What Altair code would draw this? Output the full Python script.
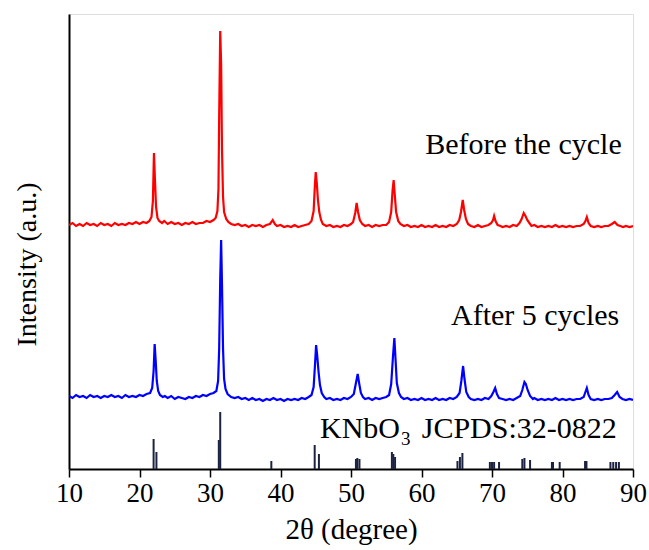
import altair as alt
import pandas as pd

# "Before the cycle" trace: (2theta, intensity a.u.)
red_trace = [
    (10.0, 244), (10.5, 246), (11.0, 243), (11.5, 245), (12.0, 243), (12.5, 246), (13.0, 244), (13.5, 245),
    (14.0, 243), (14.5, 246), (15.0, 244), (15.5, 245), (16.0, 243), (16.5, 246), (17.0, 244), (17.5, 245),
    (18.0, 244), (18.5, 246), (19.0, 245), (19.5, 247), (20.0, 245), (20.5, 247), (21.0, 246), (21.4, 248),
    (21.7, 252), (21.9, 268), (22.05, 316), (22.2, 288), (22.35, 262), (22.55, 251), (22.8, 248), (23.2, 246),
    (23.5, 248), (24.0, 245), (24.5, 247), (25.0, 245), (25.5, 246), (26.0, 244), (26.5, 246), (27.0, 245),
    (27.5, 247), (28.0, 245), (28.5, 246), (29.0, 246), (29.5, 248), (30.0, 247), (30.5, 249), (30.8, 251),
    (31.05, 258), (31.2, 280), (31.3, 352), (31.45, 438), (31.58, 405), (31.7, 320), (31.85, 272), (32.0, 257),
    (32.3, 250), (32.6, 247), (33.0, 245), (33.5, 244), (34.0, 245), (34.5, 243), (35.0, 244), (35.5, 242),
    (36.0, 244), (36.5, 243), (37.0, 244), (37.5, 242), (38.0, 244), (38.5, 245), (38.9, 249), (39.2, 245),
    (39.5, 243), (40.0, 244), (40.5, 242), (41.0, 243), (41.5, 242), (42.0, 244), (42.5, 242), (43.0, 243),
    (43.5, 244), (44.0, 245), (44.4, 248), (44.7, 258), (44.88, 284), (45.0, 297), (45.15, 286), (45.3, 270),
    (45.5, 257), (45.75, 249), (46.0, 245), (46.5, 243), (47.0, 244), (47.5, 242), (48.0, 243), (48.5, 242),
    (49.0, 244), (49.5, 243), (50.0, 245), (50.3, 247), (50.6, 256), (50.8, 266), (51.0, 257), (51.25, 249),
    (51.6, 245), (52.0, 243), (52.5, 244), (53.0, 242), (53.5, 244), (54.0, 243), (54.5, 244), (55.0, 244),
    (55.4, 247), (55.7, 257), (55.9, 279), (56.05, 289), (56.2, 275), (56.4, 257), (56.7, 248), (57.0, 245),
    (57.5, 243), (58.0, 244), (58.5, 242), (59.0, 243), (59.5, 242), (60.0, 244), (60.5, 242), (61.0, 243),
    (61.5, 242), (62.0, 244), (62.5, 242), (63.0, 243), (63.5, 242), (64.0, 244), (64.5, 243), (65.0, 245),
    (65.35, 249), (65.6, 257), (65.85, 269), (66.05, 259), (66.3, 250), (66.6, 245), (67.0, 243), (67.5, 242),
    (68.0, 244), (68.5, 242), (69.0, 243), (69.5, 244), (69.9, 246), (70.15, 249), (70.3, 253), (70.5, 248),
    (70.8, 244), (71.2, 243), (71.5, 242), (72.0, 243), (72.5, 242), (73.0, 244), (73.5, 243), (73.9, 246),
    (74.2, 250), (74.5, 256), (74.75, 253), (75.0, 249), (75.3, 246), (75.6, 243), (76.0, 244), (76.5, 242),
    (77.0, 243), (77.5, 242), (78.0, 243), (78.5, 242), (79.0, 244), (79.5, 242), (80.0, 243), (80.5, 242),
    (81.0, 243), (81.5, 242), (82.0, 243), (82.5, 243), (83.0, 245), (83.25, 248), (83.45, 252), (83.7, 246),
    (84.0, 243), (84.5, 242), (85.0, 243), (85.5, 242), (86.0, 243), (86.5, 243), (87.0, 245), (87.4, 247),
    (87.8, 244), (88.2, 243), (88.6, 242), (89.0, 243), (89.5, 242), (90.0, 243),
]

# "After 5 cycles" trace
blue_trace = [
    (10.0, 73), (10.5, 71), (11.0, 74), (11.5, 72), (12.0, 73), (12.5, 71), (13.0, 74), (13.5, 72),
    (14.0, 73), (14.5, 71), (15.0, 73), (15.5, 72), (16.0, 74), (16.5, 72), (17.0, 73), (17.5, 71),
    (18.0, 74), (18.5, 72), (19.0, 73), (19.5, 72), (20.0, 74), (20.5, 73), (21.0, 75), (21.5, 76),
    (21.8, 81), (22.0, 98), (22.15, 125), (22.3, 108), (22.45, 88), (22.65, 78), (22.9, 74), (23.3, 72),
    (23.6, 73), (24.0, 71), (24.5, 73), (25.0, 70), (25.5, 72), (26.0, 71), (26.5, 70), (27.0, 72),
    (27.5, 71), (28.0, 73), (28.5, 72), (29.0, 74), (29.5, 73), (30.0, 75), (30.5, 76), (30.9, 78),
    (31.15, 88), (31.3, 120), (31.45, 190), (31.58, 229), (31.7, 185), (31.85, 120), (32.0, 90), (32.2, 80),
    (32.5, 75), (33.0, 72), (33.5, 71), (34.0, 72), (34.5, 70), (35.0, 71), (35.5, 69), (36.0, 71),
    (36.5, 69), (37.0, 70), (37.5, 68), (38.0, 70), (38.5, 69), (39.0, 71), (39.5, 69), (40.0, 70),
    (40.5, 68), (41.0, 70), (41.5, 69), (42.0, 70), (42.5, 69), (43.0, 71), (43.5, 70), (44.0, 72),
    (44.4, 74), (44.7, 82), (44.9, 105), (45.05, 124), (45.2, 114), (45.4, 97), (45.6, 84), (45.85, 76),
    (46.2, 72), (46.5, 70), (47.0, 71), (47.5, 69), (48.0, 70), (48.5, 69), (49.0, 71), (49.5, 70),
    (50.0, 72), (50.4, 75), (50.7, 86), (50.95, 95), (51.15, 86), (51.4, 76), (51.7, 72), (52.0, 70),
    (52.5, 71), (53.0, 69), (53.5, 71), (54.0, 70), (54.5, 71), (55.0, 72), (55.4, 74), (55.7, 85),
    (55.95, 112), (56.15, 131), (56.3, 112), (56.5, 86), (56.8, 76), (57.1, 72), (57.5, 70), (58.0, 71),
    (58.5, 69), (59.0, 70), (59.5, 69), (60.0, 71), (60.5, 69), (61.0, 70), (61.5, 69), (62.0, 71),
    (62.5, 69), (63.0, 70), (63.5, 69), (64.0, 71), (64.5, 70), (65.0, 72), (65.4, 76), (65.65, 88),
    (65.9, 103), (66.1, 90), (66.35, 77), (66.7, 72), (67.0, 70), (67.5, 69), (68.0, 70), (68.5, 69),
    (69.0, 71), (69.5, 70), (69.9, 73), (70.2, 77), (70.45, 81), (70.7, 75), (71.0, 71), (71.5, 70),
    (72.0, 69), (72.5, 70), (73.0, 69), (73.5, 71), (74.0, 73), (74.3, 79), (74.6, 87), (74.8, 85),
    (75.05, 79), (75.4, 73), (75.8, 70), (76.0, 71), (76.5, 69), (77.0, 70), (77.5, 69), (78.0, 70),
    (78.5, 69), (79.0, 71), (79.5, 69), (80.0, 70), (80.5, 69), (81.0, 70), (81.5, 69), (82.0, 70),
    (82.5, 70), (83.0, 72), (83.25, 77), (83.45, 81), (83.7, 74), (84.0, 70), (84.5, 69), (85.0, 70),
    (85.5, 69), (86.0, 70), (86.5, 70), (87.0, 71), (87.4, 74), (87.75, 77), (88.1, 72), (88.5, 70),
    (89.0, 69), (89.5, 70), (90.0, 69),
]

# JCPDS 32-0822 reference lines: positions and relative heights
ref_pos = [22.0, 22.4, 31.25, 31.45, 38.7, 44.85, 45.45, 50.7, 50.9, 51.2, 55.8, 56.0, 56.25,
           65.1, 65.45, 65.8, 69.7, 70.0, 70.3, 71.0, 74.3, 74.6, 75.4, 78.5, 78.65, 79.6,
           83.2, 83.4, 86.8, 87.2, 87.6, 88.0]
ref_height = [30, 17, 29, 57, 8, 24, 15, 10, 11, 10, 17, 15, 12,
              8, 12, 16, 7, 7, 7, 7, 10, 11, 9, 7, 7, 7,
              8, 8, 7, 7, 7, 7]

x_ticks = list(range(10, 91, 5))

# annotations
ann_text = ["Before the cycle", "After 5 cycles", "JCPDS:32-0822", "KNbO"]
ann_x = [88.4, 88.05, 87.7, 56.95]
ann_y = [315, 144, 31, 31]
sub_text = ["3"]
sub_x = [57.1]
sub_y = [24]

FONT = "Liberation Serif"

red_df = pd.DataFrame(red_trace, columns=["x", "y"])
blue_df = pd.DataFrame(blue_trace, columns=["x", "y"])
ref_df = pd.DataFrame({"x": ref_pos, "h": ref_height})
ref_df["y0"] = 0
ann_df = pd.DataFrame({"t": ann_text, "x": ann_x, "y": ann_y})
sub_df = pd.DataFrame({"t": sub_text, "x": sub_x, "y": sub_y})

xscale = alt.Scale(domain=[10, 90], nice=False, zero=False)
yscale = alt.Scale(domain=[0, 455], nice=False, zero=False)

xaxis = alt.Axis(
    values=x_ticks,
    labelExpr="datum.value % 10 === 0 ? datum.label : ''",
    tickSize=alt.condition("datum.value % 10 === 0", alt.value(8), alt.value(4)),
    tickColor="black", tickWidth=1.5,
    domainColor="black", domainWidth=2,
    labelFont=FONT, labelFontSize=27, labelColor="black", labelPadding=3,
    labelFlush=False,
    title="2θ (degree)", titleFont=FONT, titleFontSize=29, titleFontWeight="normal",
    titleColor="black", titleY=60, titleBaseline="middle",
    grid=False,
)
yaxis = alt.Axis(
    ticks=False, labels=False, grid=False,
    domainColor="black", domainWidth=2,
    title="Intensity (a.u.)", titleFont=FONT, titleFontSize=28, titleFontWeight="normal",
    titleColor="black", titleX=-42, titleY=250, titleAngle=-90,
    titleBaseline="middle", titleAlign="center",
)

red = alt.Chart(red_df).mark_line(color="#ff0000", strokeWidth=2.2, clip=True).encode(
    x=alt.X("x:Q", scale=xscale, axis=xaxis),
    y=alt.Y("y:Q", scale=yscale, axis=yaxis),
)
blue = alt.Chart(blue_df).mark_line(color="#0000ff", strokeWidth=2.2, clip=True).encode(
    x=alt.X("x:Q", scale=xscale),
    y=alt.Y("y:Q", scale=yscale),
)
sticks = alt.Chart(ref_df).mark_rule(color="#1c2340", strokeWidth=2).encode(
    x=alt.X("x:Q", scale=xscale),
    y=alt.Y("y0:Q", scale=yscale),
    y2="h:Q",
)
ann = alt.Chart(ann_df).mark_text(font=FONT, fontSize=30, align="right", baseline="alphabetic",
                                  color="black").encode(
    x=alt.X("x:Q", scale=xscale), y=alt.Y("y:Q", scale=yscale), text="t:N"
)
sub = alt.Chart(sub_df).mark_text(font=FONT, fontSize=19, align="left", baseline="alphabetic",
                                  color="black").encode(
    x=alt.X("x:Q", scale=xscale), y=alt.Y("y:Q", scale=yscale), text="t:N"
)

chart = alt.layer(red, blue, sticks, ann, sub).properties(
    width=564, height=455,
    autosize=alt.AutoSizeParams(type="none"),
    padding={"left": 69, "top": 14, "right": 16, "bottom": 81},
    background="white",
).configure_view(
    stroke="black", strokeWidth=1.5
).configure_axis(
    labelFont=FONT, titleFont=FONT
).configure(font=FONT)

chart.save("out.html", embed_options={"renderer": "svg", "actions": False})
